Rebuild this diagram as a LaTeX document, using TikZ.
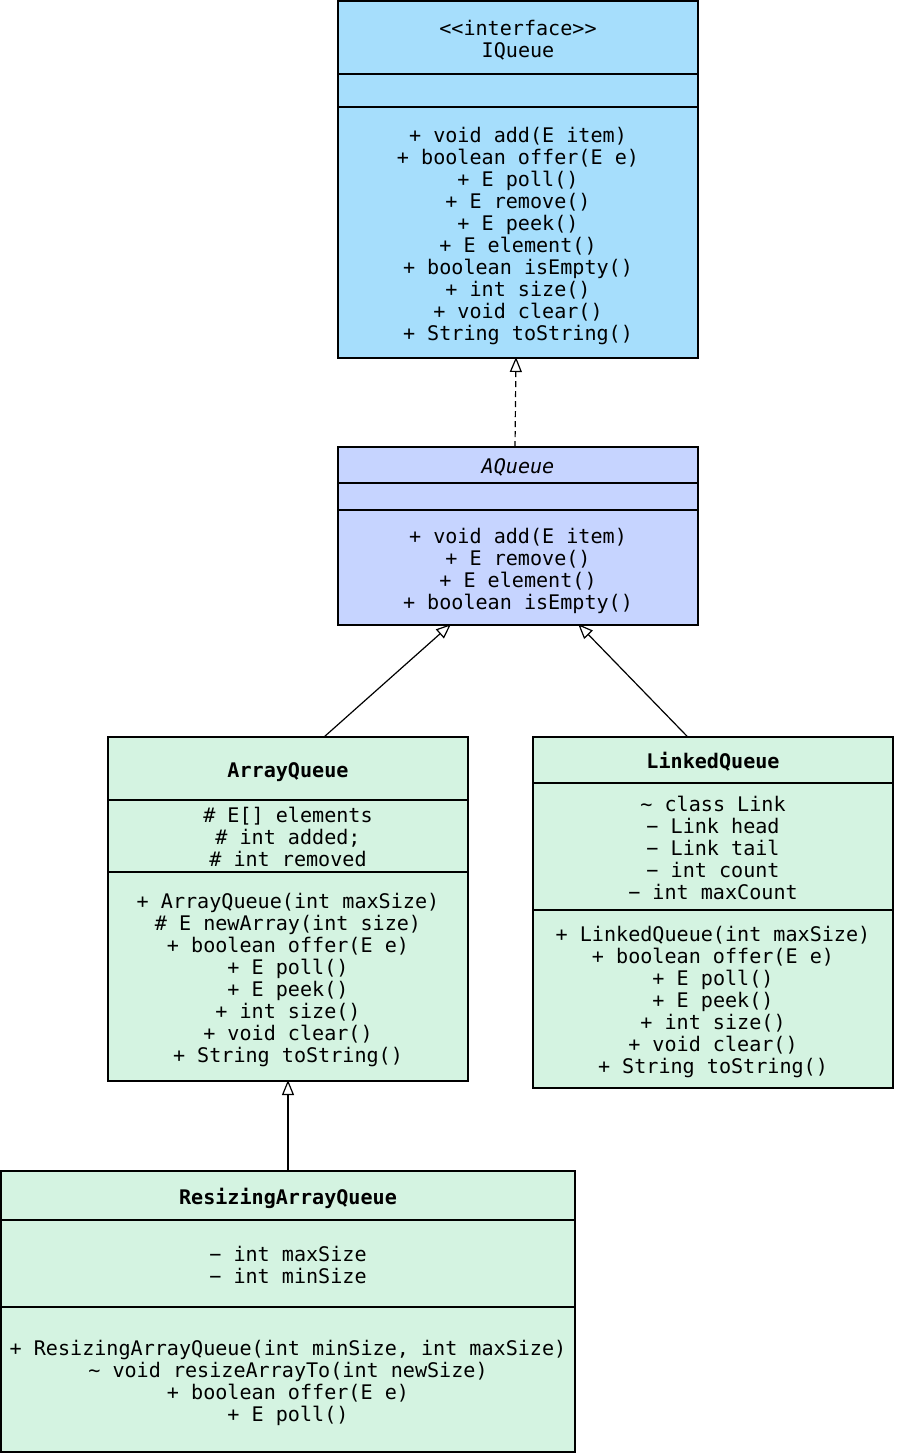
\documentclass[tikz,border=0pt]{standalone}
\usepackage{fontspec}
\setmonofont{DejaVu Sans Mono}
\usetikzlibrary{arrows.meta,calc}
\definecolor{iqblue}{RGB}{166,222,252}
\definecolor{aqblue}{RGB}{198,212,255}
\definecolor{clgreen}{RGB}{212,243,225}
\newcommand{\umlfont}{\ttfamily\fontsize{20.1}{22}\selectfont}
\newcommand{\cc}[1]{\rule{0pt}{22pt}#1\rule[-4.5pt]{0pt}{0pt}}
\tikzset{
  comp/.style={draw, line width=1.3pt, inner sep=0pt, outer sep=0pt, anchor=north west,
    align=center, font=\umlfont},
  ifc/.style={comp, fill=iqblue},
  abs/.style={comp, fill=aqblue},
  cls/.style={comp, fill=clgreen},
  realize/.style={line width=1.2pt, dash pattern=on 6pt off 4pt, -{Triangle[open, length=15pt, width=12pt, line width=1.2pt]}},
  inherit/.style={line width=1.2pt, -{Triangle[open, length=15pt, width=12pt, line width=1.2pt]}}
}
\begin{document}
\begin{tikzpicture}[x=1pt,y=-1pt]
\useasboundingbox (0,0) rectangle (905,1454);

% IQueue
\node[ifc, minimum width=360, minimum height=73] (iqh) at (338,1) {\cc{<<interface>>\\IQueue}};
\node[ifc, minimum width=360, minimum height=33] (iqa) at (338,74) {};
\node[ifc, minimum width=360, minimum height=251] (iqm) at (338,107)
 {\cc{+ void add(E item)\\+ boolean offer(E e)\\+ E poll()\\+ E remove()\\+ E peek()\\+ E element()\\+ boolean isEmpty()\\+ int size()\\+ void clear()\\+ String toString()}};

% AQueue
\node[abs, minimum width=360, minimum height=36] (aqh) at (338,447) {\cc{\itshape AQueue}};
\node[abs, minimum width=360, minimum height=27] (aqa) at (338,483) {};
\node[abs, minimum width=360, minimum height=115] (aqm) at (338,510)
 {\cc{+ void add(E item)\\+ E remove()\\+ E element()\\+ boolean isEmpty()}};

% ArrayQueue
\node[cls, minimum width=360, minimum height=63] (arh) at (108,737) {\cc{\bfseries ArrayQueue}};
\node[cls, minimum width=360, minimum height=72] (ara) at (108,800)
 {\cc{\# E[] elements\\\# int added;\\\# int removed}};
\node[cls, minimum width=360, minimum height=209] (arm) at (108,872)
 {\cc{+ ArrayQueue(int maxSize)\\\# E newArray(int size)\\+ boolean offer(E e)\\+ E poll()\\+ E peek()\\+ int size()\\+ void clear()\\+ String toString()}};

% LinkedQueue
\node[cls, minimum width=360, minimum height=46] (lqh) at (533,737) {\cc{\bfseries LinkedQueue}};
\node[cls, minimum width=360, minimum height=127] (lqa) at (533,783)
 {\cc{\textasciitilde{} class Link\\− Link head\\− Link tail\\− int count\\− int maxCount}};
\node[cls, minimum width=360, minimum height=178] (lqm) at (533,910)
 {\cc{+ LinkedQueue(int maxSize)\\+ boolean offer(E e)\\+ E poll()\\+ E peek()\\+ int size()\\+ void clear()\\+ String toString()}};

% ResizingArrayQueue
\node[cls, minimum width=574, minimum height=49] (rqh) at (1,1171) {\cc{\bfseries ResizingArrayQueue}};
\node[cls, minimum width=574, minimum height=87] (rqa) at (1,1220)
 {\cc{− int maxSize\\− int minSize}};
\node[cls, minimum width=574, minimum height=145] (rqm) at (1,1307)
 {\cc{+ ResizingArrayQueue(int minSize, int maxSize)\\\textasciitilde{} void resizeArrayTo(int newSize)\\+ boolean offer(E e)\\+ E poll()}};

% connectors
\draw[realize] ($(aqh.north)+(-3,0)$) -- ($(iqm.south)+(-2,-1)$);
\draw[inherit] ($(arh.north west)!0.6!(arh.north east)$) -- ($(aqm.south west)!0.314!(aqm.south east)+(0,-1)$);
\draw[inherit] ($(lqh.north west)!0.43!(lqh.north east)$) -- ($(aqm.south west)!0.667!(aqm.south east)+(0,-1)$);
\draw[inherit] (rqh.north) -- ($(arm.south)+(0,-1)$);
\end{tikzpicture}
\end{document}
